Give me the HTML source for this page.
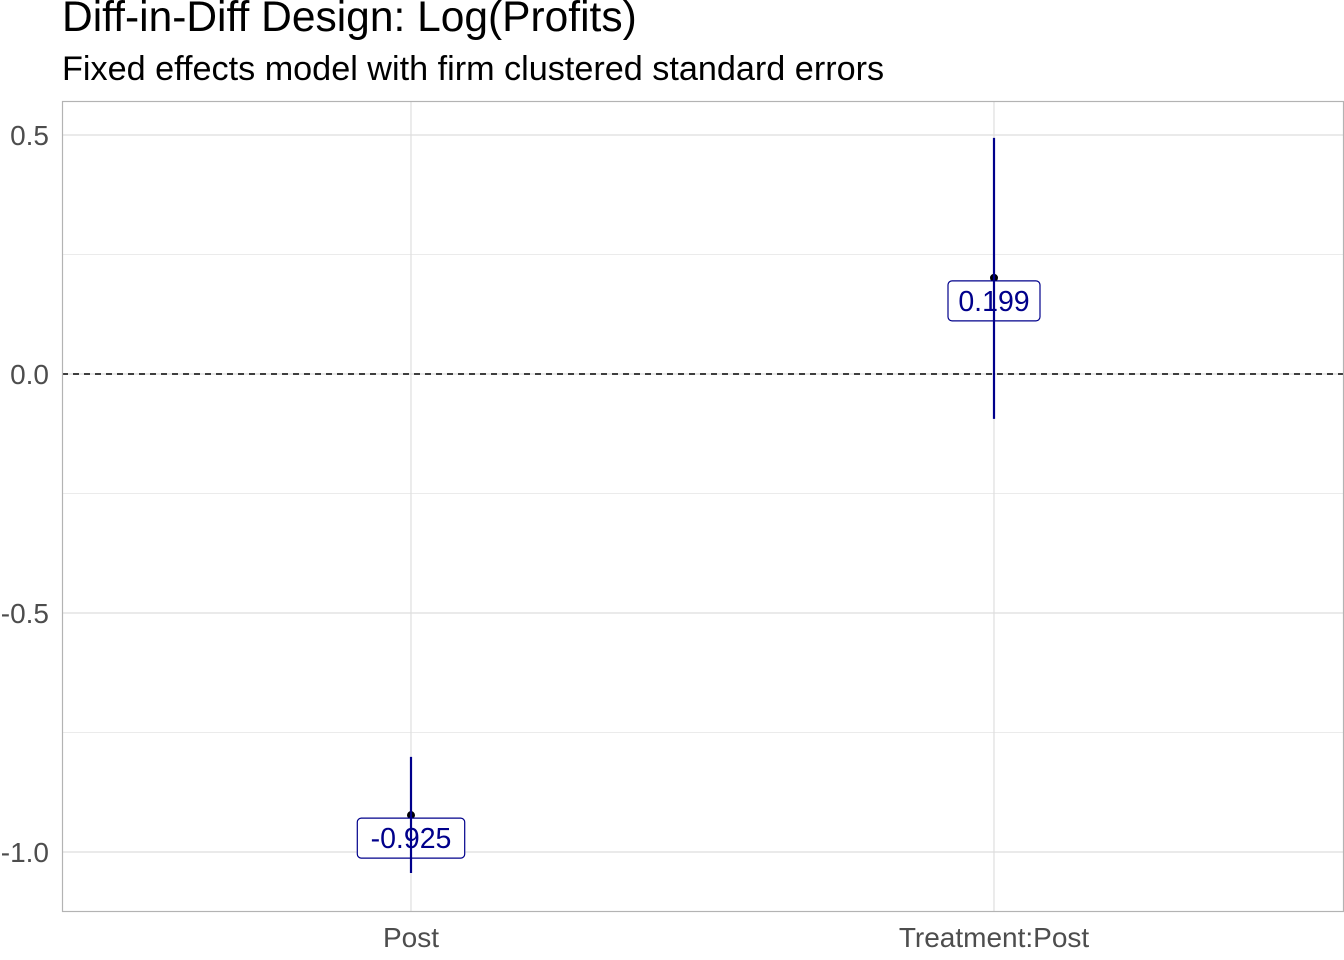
<!DOCTYPE html>
<html><head><meta charset="utf-8"><style>
body{margin:0;background:#fff;}
svg{display:block;font-family:"Liberation Sans",Arial,sans-serif;}
</style></head><body>
<svg id="chart" width="1344" height="960">
<text x="62" y="31" font-size="42.5" fill="#000">Diff-in-Diff Design: Log(Profits)</text>
<text x="62" y="80" font-size="34.2" fill="#000">Fixed effects model with firm clustered standard errors</text>
<g id="grid"></g>
<g id="axes"></g>
<g id="marks"></g>
<rect x="62.5" y="101.5" width="1281" height="810" fill="none" stroke="#b3b3b3" stroke-width="1.2"/>
</svg>
<script>
const categories = ["Post", "Treatment:Post"];
const estimates = [-0.925, 0.199];
const lower = [-1.044, -0.094];
const upper = [-0.801, 0.494];
const labels = ["-0.925", "0.199"];
const yTicks = [0.5, 0.0, -0.5, -1.0];
const yTickLabels = ["0.5", "0.0", "-0.5", "-1.0"];
const yMinor = [0.25, -0.25, -0.75];

const NS = "http://www.w3.org/2000/svg";
function yS(v){ return 374 - v * 478; }
function xS(i){ return 411 + i * 583; }
function mk(tag, attrs, parent, text){
  const e = document.createElementNS(NS, tag);
  for (const k in attrs) e.setAttribute(k, attrs[k]);
  if (text !== undefined) e.textContent = text;
  parent.appendChild(e); return e;
}
const grid = document.getElementById("grid");
const axes = document.getElementById("axes");
const marks = document.getElementById("marks");

yMinor.forEach(v => {
  const l = mk("line", {x1:62, x2:1343, y1:yS(v), y2:yS(v), stroke:"#ebebeb", "stroke-width":1}, grid);
  
  
});
yTicks.forEach((v, i) => {
  const l = mk("line", {x1:62, x2:1343, y1:yS(v), y2:yS(v), stroke:"#dedede", "stroke-width":1.2}, grid);
  
  
  const t = mk("text", {x:49, y:yS(v)+10, "text-anchor":"end", "font-size":28, fill:"#4d4d4d"}, axes, yTickLabels[i]);
  
  
});
categories.forEach((c, i) => {
  const l = mk("line", {x1:xS(i), x2:xS(i), y1:101, y2:911, stroke:"#dedede", "stroke-width":1.2}, grid);
  
  
  const t = mk("text", {x:xS(i), y:947, "text-anchor":"middle", "font-size":28, fill:"#4d4d4d"}, axes, c);
  
  
});
const zl = mk("line", {x1:62, x2:1343, y1:yS(0), y2:yS(0), stroke:"#000", "stroke-width":1.6, "stroke-dasharray":"6,5"}, marks);



categories.forEach((c, i) => {
  const x = xS(i), y = yS(estimates[i]);
  const p = mk("circle", {cx:x, cy:y-1, r:4, fill:"#000"}, marks);
  
  
  const w = labels[i].length * 15.4 + 15;
  const r = mk("rect", {x:x-w/2, y:y+2, width:w, height:40, rx:4, fill:"#fff", stroke:"#00008b", "stroke-width":1.2}, marks);
  
  
  const t = mk("text", {x:x, y:y+32, "text-anchor":"middle", "font-size":28.5, fill:"#00008b"}, marks, labels[i]);
  
  
  const e = mk("line", {x1:x, x2:x, y1:yS(upper[i]), y2:yS(lower[i]), stroke:"#00008b", "stroke-width":2.2}, marks);
  
  
});
</script>
</body></html>
